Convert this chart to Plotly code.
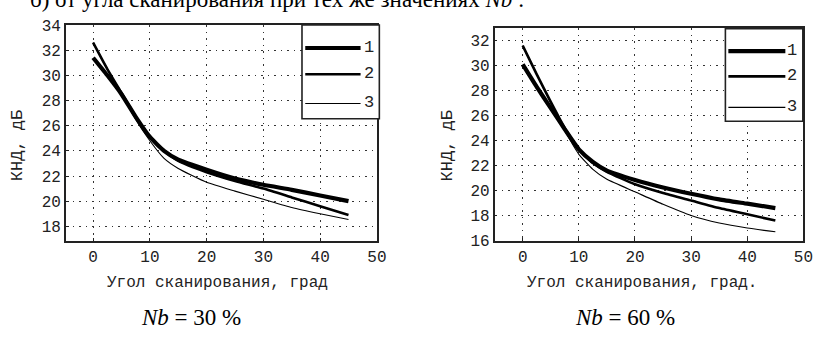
import plotly.graph_objects as go

# ---- data ----
angles = [0, 2.5, 5, 7.5, 10, 12.5, 15, 20, 25, 30, 35, 40, 45]

nb30_c1 = [31.4, 30.0, 28.5, 26.7, 25.1, 24.0, 23.3, 22.5, 21.8, 21.3, 20.9, 20.45, 20.0]
nb30_c2 = [32.6, 30.5, 28.6, 26.7, 25.1, 24.0, 23.2, 22.3, 21.6, 21.0, 20.3, 19.6, 18.9]
nb30_c3 = [32.6, 30.5, 28.5, 26.5, 24.8, 23.4, 22.6, 21.5, 20.8, 20.15, 19.5, 19.0, 18.55]

nb60_c1 = [30.1, 28.3, 26.6, 24.9, 23.3, 22.3, 21.6, 20.85, 20.25, 19.75, 19.3, 18.95, 18.6]
nb60_c2 = [31.6, 29.3, 27.1, 25.0, 23.3, 22.2, 21.5, 20.5, 19.8, 19.2, 18.6, 18.1, 17.6]
nb60_c3 = [31.6, 29.3, 27.0, 24.8, 22.9, 21.7, 20.9, 19.9, 18.9, 18.0, 17.4, 17.0, 16.7]

series_names = ["1", "2", "3"]
line_widths = [4.2, 2.6, 1.1]

x_ticks = [0, 10, 20, 30, 40, 50]
y_ticks_left = [18, 20, 22, 24, 26, 28, 30, 32, 34]
y_ticks_right = [16, 18, 20, 22, 24, 26, 28, 30, 32]

x_title_left = "Угол сканирования, град"
x_title_right = "Угол сканирования, град."
y_title = "КНД, дБ"
caption_left = "<i>Nb</i> = 30 %"
caption_right = "<i>Nb</i> = 60 %"
top_text = "б) от угла сканирования при тех же значениях <i>Nb</i> :"

W, H = 824, 338
MONO = "Liberation Mono, Courier New, monospace"
SERIF = "Liberation Serif, Times New Roman, serif"
INK = "#222"

def px(x):
    return x / W

def py(y):
    return 1 - y / H

fig = go.Figure()

for vals, w, n in zip([nb30_c1, nb30_c2, nb30_c3], line_widths, series_names):
    fig.add_trace(go.Scatter(x=angles, y=vals, mode="lines", name=n,
                             line=dict(color="black", width=w, shape="spline", smoothing=0.5),
                             xaxis="x", yaxis="y", showlegend=False))
for vals, w, n in zip([nb60_c1, nb60_c2, nb60_c3], line_widths, series_names):
    fig.add_trace(go.Scatter(x=angles, y=vals, mode="lines", name=n,
                             line=dict(color="black", width=w, shape="spline", smoothing=0.5),
                             xaxis="x2", yaxis="y2", showlegend=False))

axis_common = dict(
    showline=True, linecolor=INK, linewidth=1.6, mirror=True,
    showgrid=True, gridcolor="#333", gridwidth=1, griddash="2px,5px,1px,5px",
    zeroline=False, ticks="inside", ticklen=3, tickcolor=INK,
    tickfont=dict(family=MONO, size=16, color=INK),
)

fig.update_layout(
    width=W, height=H, margin=dict(l=0, r=0, t=0, b=0),
    paper_bgcolor="white", plot_bgcolor="white",
    xaxis=dict(domain=[px(66.7), px(381.5)], range=[-4.8, 50], tickvals=x_ticks,
               anchor="y", **axis_common),
    yaxis=dict(domain=[py(246.7), py(19)], range=[16.87, 34], tickvals=y_ticks_left,
               anchor="x", **axis_common),
    xaxis2=dict(domain=[px(500.7), px(813.3)], range=[-5, 50], tickvals=x_ticks,
                anchor="y2", **axis_common),
    yaxis2=dict(domain=[py(246.7), py(22.3)], range=[16, 33], tickvals=y_ticks_right,
                anchor="x2", **axis_common),
    showlegend=False,
)

ann = []

def add_text(text, x, y, font, **kw):
    d = dict(text=text, x=px(x), y=py(y), xref="paper", yref="paper",
             xanchor="center", yanchor="middle", showarrow=False, font=font)
    d.update(kw)
    ann.append(d)

mono16 = dict(family=MONO, size=16, color=INK)
# axis titles
add_text(x_title_left, 220, 292, mono16)
add_text(x_title_right, 650, 292, mono16)
add_text(y_title, 18.5, 146.7, dict(family=MONO, size=17, color=INK), textangle=-90)
add_text(y_title, 453, 146.7, dict(family=MONO, size=17, color=INK), textangle=-90)
# captions
add_text(caption_left, 193, 328, dict(family=SERIF, size=23, color="black"))
add_text(caption_right, 633, 328, dict(family=SERIF, size=23, color="black"))
# cut-off heading
add_text(top_text, 532, 7, dict(family=SERIF, size=23, color="black"),
         xanchor="right", yanchor="bottom")

shapes = []
# legends (manual boxes)
legend_specs = [
    dict(box=(305.7, 19, 384, 118), ys=[43.3, 71, 102], x0=309, x1=365, lx=374),
    dict(box=(734.3, 23, 812.7, 120.7), ys=[46.7, 73.3, 106], x0=737.3, x1=795, lx=802),
]
for spec in legend_specs:
    bx0, by0, bx1, by1 = spec["box"]
    shapes.append(dict(type="rect", xref="paper", yref="paper",
                       x0=px(bx0), x1=px(bx1), y0=py(by1), y1=py(by0),
                       line=dict(color=INK, width=1.6), fillcolor="white", layer="above"))
    for yy, w, n in zip(spec["ys"], line_widths, series_names):
        shapes.append(dict(type="line", xref="paper", yref="paper",
                           x0=px(spec["x0"]), x1=px(spec["x1"]), y0=py(yy), y1=py(yy),
                           line=dict(color="black", width=w), layer="above"))
        add_text(n, spec["lx"], yy - 1, dict(family=MONO, size=17, color=INK))

fig.update_layout(annotations=ann, shapes=shapes)
fig.write_html("out.html")
